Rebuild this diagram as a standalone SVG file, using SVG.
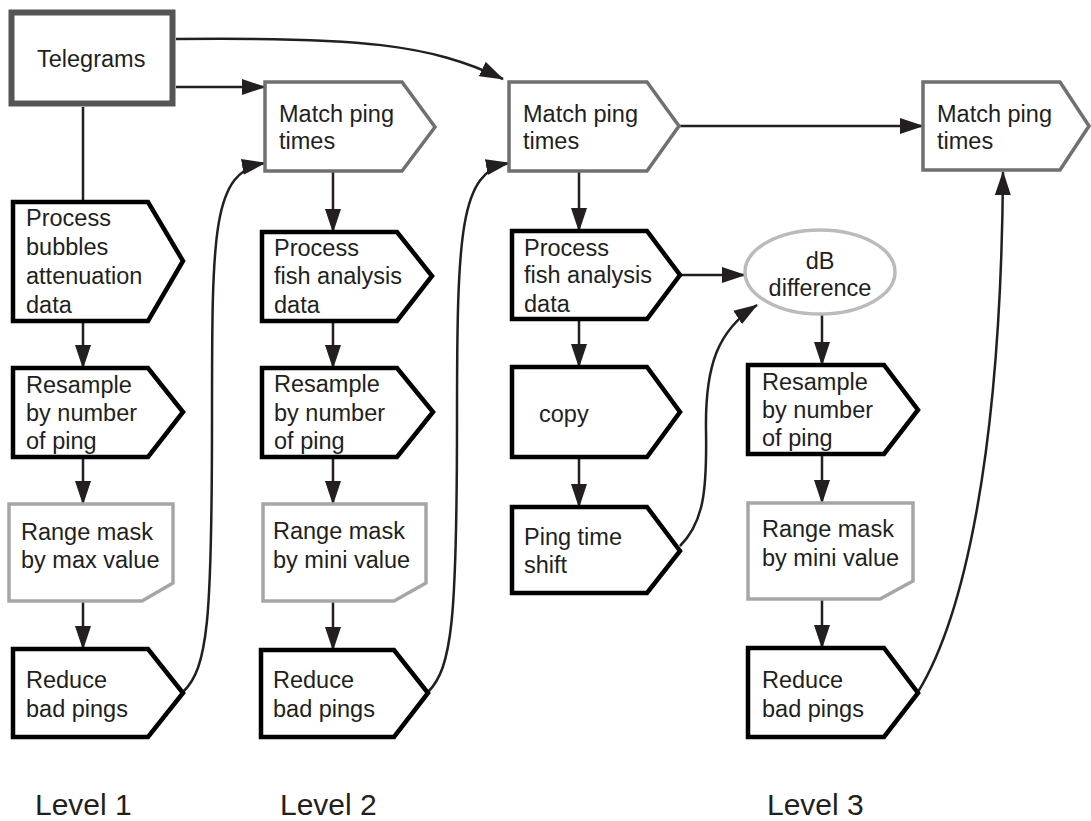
<svg xmlns="http://www.w3.org/2000/svg" width="1091" height="821" viewBox="0 0 1091 821">
<defs>
<marker id="ah" markerUnits="userSpaceOnUse" markerWidth="24" markerHeight="17" refX="23" refY="8.5" orient="auto" viewBox="0 0 24 17">
<path d="M0,0.5 L24,8.5 L0,16.5 Z" fill="#231f20"/>
</marker>
</defs>
<style>
.t{font-family:"Liberation Sans",Arial,sans-serif;font-size:23.5px;fill:#231f20}
.lv{font-family:"Liberation Sans",Arial,sans-serif;font-size:30px;fill:#231f20}
.blk{fill:#fff;stroke:#000;stroke-width:4.5;stroke-linejoin:miter}
.gry{fill:#fff;stroke:#707070;stroke-width:3.5}
.lgt{fill:#fff;stroke:#a6a6a6;stroke-width:3.5}
.c{fill:none;stroke:#231f20;stroke-width:2.5}
.ca{fill:none;stroke:#231f20;stroke-width:2.5;marker-end:url(#ah)}
</style>
<rect width="1091" height="821" fill="#fff"/>

<g id="connectors">
<path class="ca" d="M176,39 C360,37 430,44 503,79"/>
<path class="ca" d="M176,87 H265"/>
<path class="c" d="M83,107 V202"/>
<path class="ca" d="M83,321 V368"/>
<path class="ca" d="M83,457 V504"/>
<path class="ca" d="M83,601 V649"/>
<path class="ca" d="M183,692 C208,668 212,620 212,420 C212,230 212,172 265,163"/>
<path class="ca" d="M333,171 V232"/>
<path class="ca" d="M333,321 V368"/>
<path class="ca" d="M333,457 V504"/>
<path class="ca" d="M333,601 V650"/>
<path class="ca" d="M428,692 C452,668 457,620 457,420 C457,230 460,172 509,163"/>
<path class="ca" d="M579,171 V231"/>
<path class="ca" d="M579,319 V367"/>
<path class="ca" d="M579,457 V507"/>
<path class="ca" d="M680,275 H745"/>
<path class="ca" d="M680,546 C704,522 707,490 706,430 C705,365 718,330 757,305"/>
<path class="ca" d="M822,314 V365"/>
<path class="ca" d="M822,454 V503"/>
<path class="ca" d="M822,599 V648"/>
<path class="ca" d="M918,692 C962,620 1001,460 1003,172"/>
<path class="ca" d="M679,126 H923"/>
</g>

<g id="telegrams">
<rect x="11.5" y="12.5" width="161" height="91" fill="#fff" stroke="#555" stroke-width="6"/>
<text class="t" x="37" y="67">Telegrams</text>
</g>

<g id="match1">
<path class="gry" d="M265,82 H402 L435,127 L402,171 H265 Z"/>
<text class="t" x="279" y="122">Match ping</text>
<text class="t" x="279" y="149">times</text>
</g>
<g id="match2">
<path class="gry" d="M509,82 H647 L679,126 L647,171 H509 Z"/>
<text class="t" x="523" y="122">Match ping</text>
<text class="t" x="523" y="149">times</text>
</g>
<g id="match3">
<path class="gry" d="M923,82 H1060 L1089,126 L1060,170 H923 Z"/>
<text class="t" x="937" y="122">Match ping</text>
<text class="t" x="937" y="149">times</text>
</g>

<g id="process1">
<path class="blk" d="M13,202 H148 L183,261 L148,321 H13 Z"/>
<text class="t" x="26" y="226">Process</text>
<text class="t" x="26" y="255">bubbles</text>
<text class="t" x="26" y="284">attenuation</text>
<text class="t" x="26" y="313">data</text>
</g>
<g id="resample1">
<path class="blk" d="M13,368 H148 L183,412 L148,457 H13 Z"/>
<text class="t" x="26" y="393">Resample</text>
<text class="t" x="26" y="421">by number</text>
<text class="t" x="26" y="449">of ping</text>
</g>
<g id="range1">
<path class="lgt" d="M9,504 H173 V583 L142,601 H9 Z"/>
<text class="t" x="21" y="540">Range mask</text>
<text class="t" x="21" y="568">by max value</text>
</g>
<g id="reduce1">
<path class="blk" d="M13,649 H148 L183,693 L148,737 H13 Z"/>
<text class="t" x="26" y="688">Reduce</text>
<text class="t" x="26" y="717">bad pings</text>
</g>

<g id="process2">
<path class="blk" d="M262,232 H397 L432,276 L397,321 H262 Z"/>
<text class="t" x="274" y="256">Process</text>
<text class="t" x="274" y="284">fish analysis</text>
<text class="t" x="274" y="313">data</text>
</g>
<g id="resample2">
<path class="blk" d="M262,368 H397 L433,412 L397,457 H262 Z"/>
<text class="t" x="274" y="392">Resample</text>
<text class="t" x="274" y="421">by number</text>
<text class="t" x="274" y="449">of ping</text>
</g>
<g id="range2">
<path class="lgt" d="M263,504 H426 V583 L394,601 H263 Z"/>
<text class="t" x="273" y="539">Range mask</text>
<text class="t" x="273" y="568">by mini value</text>
</g>
<g id="reduce2">
<path class="blk" d="M261,650 H394 L428,693 L394,737 H261 Z"/>
<text class="t" x="273" y="688">Reduce</text>
<text class="t" x="273" y="717">bad pings</text>
</g>

<g id="process3">
<path class="blk" d="M512,231 H647 L680,275 L647,319 H512 Z"/>
<text class="t" x="524" y="256">Process</text>
<text class="t" x="524" y="283">fish analysis</text>
<text class="t" x="524" y="312">data</text>
</g>
<g id="copy">
<path class="blk" d="M512,367 H647 L680,412 L647,457 H512 Z"/>
<text class="t" x="539" y="422">copy</text>
</g>
<g id="pingshift">
<path class="blk" d="M512,507 H647 L680,551 L647,593 H512 Z"/>
<text class="t" x="524" y="545">Ping time</text>
<text class="t" x="524" y="573">shift</text>
</g>

<g id="dbdiff">
<ellipse cx="820" cy="272" rx="75" ry="42" fill="#fff" stroke="#bbb" stroke-width="3.5"/>
<text class="t" x="820" y="269" text-anchor="middle">dB</text>
<text class="t" x="820" y="296" text-anchor="middle">difference</text>
</g>
<g id="resample3">
<path class="blk" d="M748,365 H884 L918,410 L884,454 H748 Z"/>
<text class="t" x="762" y="390">Resample</text>
<text class="t" x="762" y="418">by number</text>
<text class="t" x="762" y="446">of ping</text>
</g>
<g id="range3">
<path class="lgt" d="M748,503 H913 V581 L880,599 H748 Z"/>
<text class="t" x="762" y="537">Range mask</text>
<text class="t" x="762" y="566">by mini value</text>
</g>
<g id="reduce3">
<path class="blk" d="M748,648 H884 L918,693 L884,737 H748 Z"/>
<text class="t" x="762" y="688">Reduce</text>
<text class="t" x="762" y="717">bad pings</text>
</g>

<g id="levels">
<text class="lv" x="35" y="815">Level 1</text>
<text class="lv" x="280" y="815">Level 2</text>
<text class="lv" x="767" y="815">Level 3</text>
</g>
</svg>
